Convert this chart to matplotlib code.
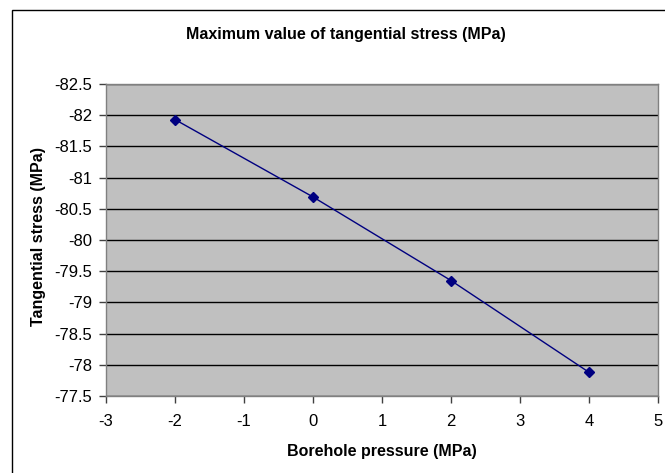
import matplotlib
matplotlib.use("Agg")
import matplotlib.pyplot as plt
from matplotlib.patches import Rectangle
from matplotlib.ticker import FuncFormatter, MultipleLocator

# borehole pressure (MPa) vs. maximum tangential stress (MPa)
pressure = [-2, 0, 2, 4]
stress = [-81.93, -80.69, -79.35, -77.88]

TITLE = "Maximum value of tangential stress (MPa)"
X_LABEL = "Borehole pressure (MPa)"
Y_LABEL = "Tangential stress (MPa)"

plt.rcParams["font.family"] = ["Liberation Sans", "DejaVu Sans"]

W, H = 665, 473
fig = plt.figure(figsize=(W / 100, H / 100), dpi=100)

# chart frame (runs off the right/bottom edges)
fig.add_artist(Rectangle((11.5 / W, -0.5), 2.0, 1.5 - 10.5 / H,
                         transform=fig.transFigure, fill=False,
                         edgecolor="black", linewidth=1.0))

ax = fig.add_axes([106 / W, (H - 396) / H, 552 / W, 312 / H])
ax.set_facecolor("#c0c0c0")

ax.set_xlim(-3, 5)
ax.set_ylim(-77.5, -82.5)
ax.xaxis.set_major_locator(MultipleLocator(1))
ax.yaxis.set_major_locator(MultipleLocator(0.5))
ax.yaxis.set_major_formatter(FuncFormatter(lambda v, _: f"{v:g}"))
ax.xaxis.set_major_formatter(FuncFormatter(lambda v, _: f"{v:g}"))

ax.grid(axis="y", color="black", linewidth=1.0)
ax.set_axisbelow(True)
for s in ax.spines.values():
    s.set_color("#808080")
    s.set_linewidth(1.0)

ax.tick_params(direction="out", length=5, width=1, color="#404040",
               labelsize=12, labelcolor="black", pad=5)
ax.tick_params(axis="x", pad=8)

ax.plot(pressure, stress, color="#000080", linewidth=1.0,
        marker="D", markersize=5, markerfacecolor="#000080",
        markeredgecolor="#000080", zorder=3)

ax.set_xlabel(X_LABEL, fontsize=11.5, fontweight="bold", labelpad=11)
ax.set_ylabel(Y_LABEL, fontsize=11.5, fontweight="bold")
ax.yaxis.set_label_coords(39 / W, 0.5, transform=fig.transFigure)
ax.yaxis.label.set_va("center")
fig.text(346 / W, 1 - 34 / H, TITLE, ha="center", va="center",
         fontsize=11.5, fontweight="bold")

fig.savefig("out.png", dpi=100)
